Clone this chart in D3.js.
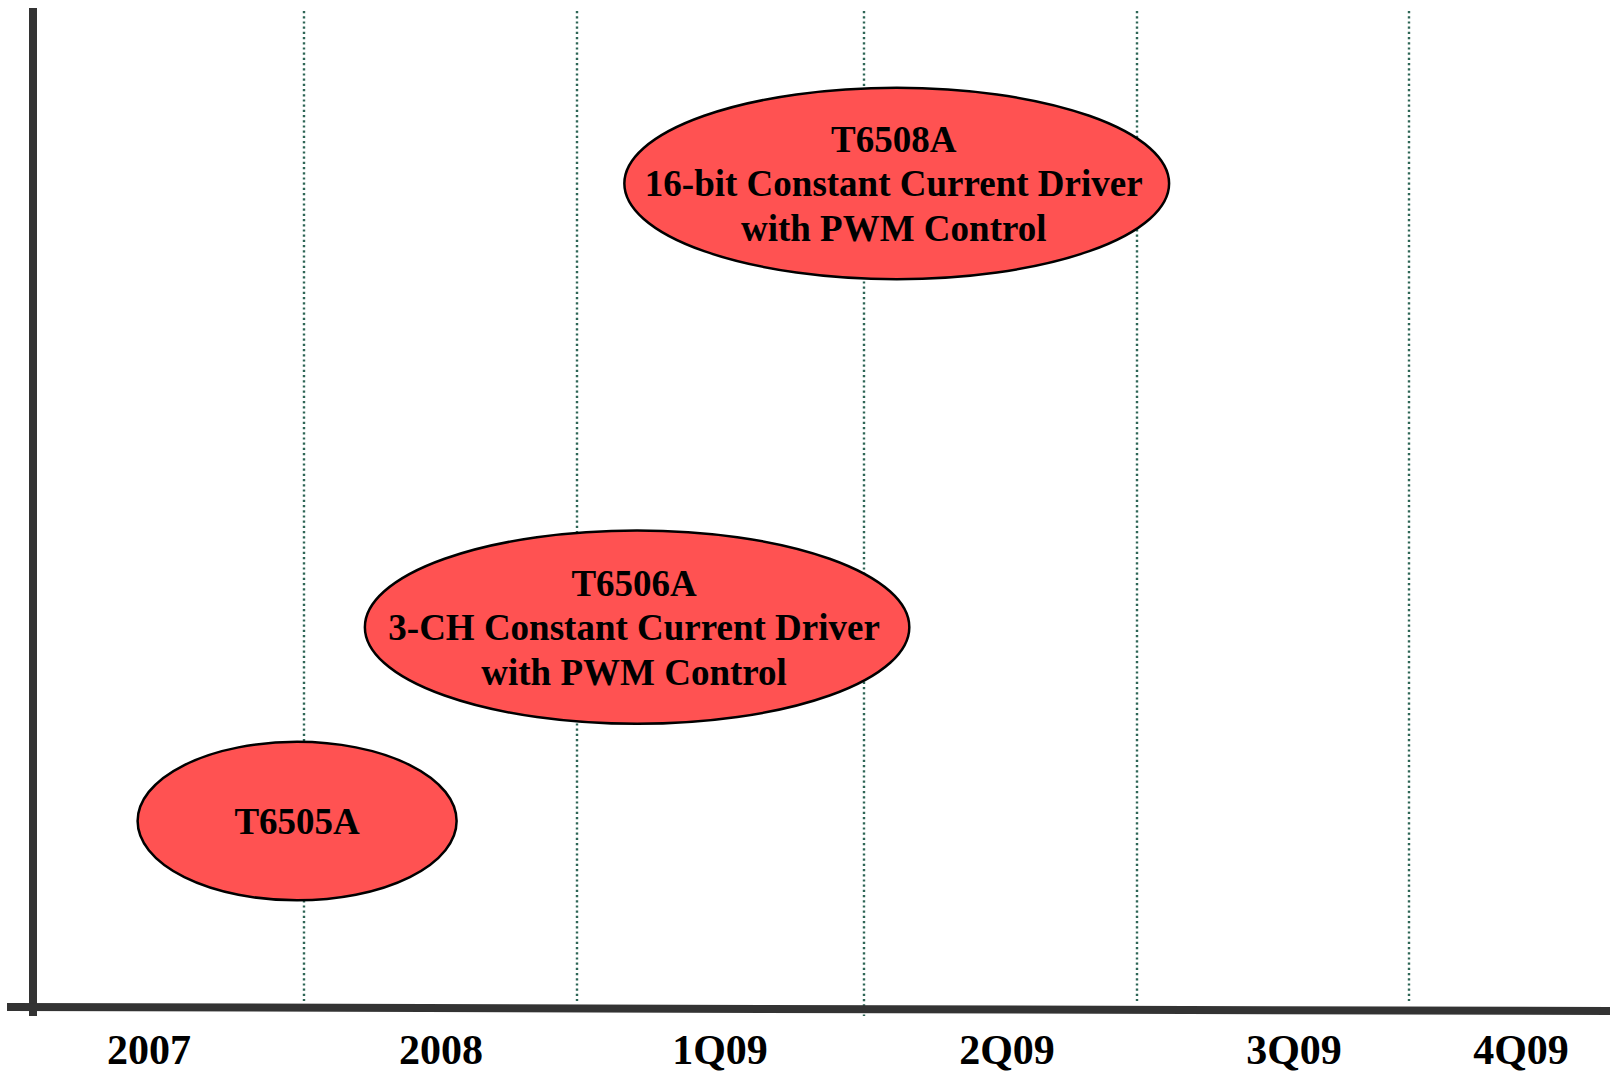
<!DOCTYPE html>
<html>
<head>
<meta charset="utf-8">
<script src="https://cdn.jsdelivr.net/npm/d3@7"></script>
<style>
	html, body { margin: 0; padding: 0; background: #ffffff; }
	svg { display: block; }
	text { font-family: "Liberation Serif", "Times New Roman", serif; font-weight: bold; fill: #000000; }
</style>
</head>
<body>
<div id="chart"></div>
<script>
// time periods along the bottom of the roadmap
var periods = ["2007", "2008", "1Q09", "2Q09", "3Q09", "4Q09"];

// products on the roadmap
var productNames = ["T6505A", "T6506A", "T6508A"];
var productDesc = [
	[],
	["3-CH Constant Current Driver", "with PWM Control"],
	["16-bit Constant Current Driver", "with PWM Control"]
];
// span of each product in period units (0 = start of 2007)
var productStart = [0.386, 1.223, 2.165];
var productEnd = [1.559, 3.166, 4.118];
// vertical band of each product (0 = axis, 100 = top)
var productLow = [10.7, 28.4, 73.0];
var productHigh = [26.6, 47.8, 92.2];

var width = 1610, height = 1074;
var axisX = 33, axisY = 1007, topY = 8;

var svg = d3.select("#chart").append("svg")
	.attr("width", width)
	.attr("height", height);

// period boundaries are not evenly spaced on the slide, so the scale is piecewise
var x = d3.scaleLinear()
	.domain(d3.range(periods.length + 1))
	.range([axisX, 304, 577, 864, 1137, 1409, width]);
var labelX = d3.scaleOrdinal()
	.domain(periods)
	.range([149, 441, 720, 1007, 1294, 1521]);
var y = d3.scaleLinear().domain([0, 100]).range([axisY, 10]);

// dotted separators between the periods
svg.append("g").selectAll("line")
	.data(d3.range(1, periods.length))
	.enter().append("line")
	.attr("x1", function(d){ return x(d); })
	.attr("x2", function(d){ return x(d); })
	.attr("y1", 11)
	.attr("y2", function(d){ return d == 3 ? 1016 : 1001; })
	.attr("stroke", "#2e6656")
	.attr("stroke-width", 2.4)
	.attr("stroke-dasharray", "2.2,3");

// axes
svg.append("line")
	.attr("x1", axisX).attr("x2", axisX)
	.attr("y1", topY).attr("y2", 1016)
	.attr("stroke", "#333333").attr("stroke-width", 8);
svg.append("line")
	.attr("x1", 7).attr("x2", width)
	.attr("y1", axisY).attr("y2", axisY + 4)
	.attr("stroke", "#333333").attr("stroke-width", 8);

// period labels
svg.append("g").selectAll("text")
	.data(periods)
	.enter().append("text")
	.attr("x", function(d){ return labelX(d); })
	.attr("y", 1064)
	.attr("text-anchor", "middle")
	.attr("font-size", "42px")
	.text(function(d){ return d; });

// product ellipses
var products = productNames.map(function(name, i){
	return {name: name, desc: productDesc[i], start: productStart[i], end: productEnd[i], low: productLow[i], high: productHigh[i]};
});

var g = svg.append("g").selectAll("g")
	.data(products)
	.enter().append("g");

g.append("ellipse")
	.attr("cx", function(d){ return (x(d.start) + x(d.end)) / 2; })
	.attr("cy", function(d){ return (y(d.low) + y(d.high)) / 2; })
	.attr("rx", function(d){ return (x(d.end) - x(d.start)) / 2; })
	.attr("ry", function(d){ return (y(d.low) - y(d.high)) / 2; })
	.attr("fill", "#ff5252")
	.attr("stroke", "#000000")
	.attr("stroke-width", 2.5);

g.each(function(d){
	var lines = [d.name].concat(d.desc);
	var cx = (x(d.start) + x(d.end)) / 2 - (lines.length > 1 ? 3 : 0);
	var cy = (y(d.low) + y(d.high)) / 2;
	var lineH = 44.5;
	d3.select(this).selectAll("text")
		.data(lines)
		.enter().append("text")
		.attr("x", cx)
		.attr("y", function(t, i){ return cy + (i - (lines.length - 1) / 2) * lineH + 13; })
		.attr("text-anchor", "middle")
		.attr("font-size", "37px")
		.text(function(t){ return t; });
});
</script>
</body>
</html>
